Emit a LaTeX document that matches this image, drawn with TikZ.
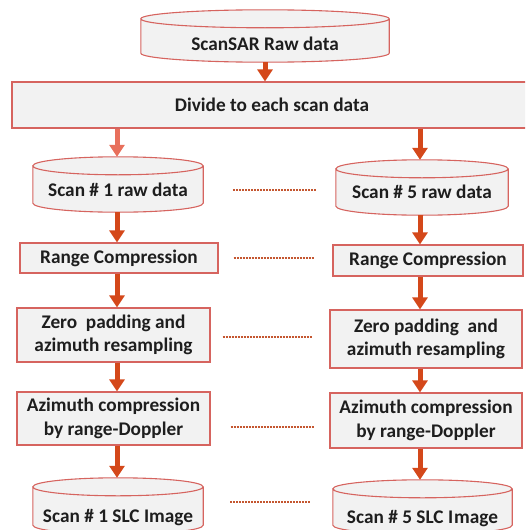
\documentclass[tikz,border=0pt]{standalone}
\usepackage{fontspec}
\setmainfont{Carlito}
\usetikzlibrary{arrows.meta,calc}

\definecolor{flowc}{RGB}{212,72,26}
\definecolor{flowpale}{RGB}{232,112,92}
\definecolor{edgec}{RGB}{214,100,95}
\definecolor{fillc}{RGB}{242,242,242}
\definecolor{linkc}{RGB}{196,86,48}
\definecolor{txtc}{RGB}{30,30,30}

% Drum (database) outline drawn around an empty named node
\newcommand\drumshape[1]{%
  \path[draw=edgec,line width=1.1pt,fill=fillc]
    let \p1=(#1.north west), \p2=(#1.south east), \n1={(\x2-\x1)/2} in
    (\x1,\y1-9pt) -- (\x1,\y2+9pt)
    arc[start angle=180,end angle=360,x radius=\n1,y radius=9pt]
    -- (\x2,\y1-9pt)
    arc[start angle=0,end angle=360,x radius=\n1,y radius=9pt];
}

\begin{document}
\begin{tikzpicture}[x=1pt,y=-1pt,
  font=\fontsize{19.3}{23.5}\selectfont\bfseries,
  drumbase/.style={rectangle,inner sep=0pt,draw=none},
  lbl/.style={inner sep=0pt,text=txtc},
  procbox/.style={rectangle,draw=edgec,line width=1.1pt,fill=fillc,
    inner sep=2pt,align=center,text=txtc},
  flow/.style={draw=flowc,line width=5pt,-{Triangle[width=15pt,length=12pt]}},
  flowlight/.style={draw=flowpale,line width=5pt,-{Triangle[width=15pt,length=12pt]}},
  dotlink/.style={draw=linkc,line width=1.3pt,dash pattern=on 2pt off 1pt}]

\clip (0,0) rectangle (525,530);

% column axes for the vertical flow
\coordinate (colL) at (117,0);
\coordinate (colR) at (420,0);

% top source
\node[drumbase,minimum width=248pt,minimum height=52pt] (top) at (265,36) {};
\drumshape{top}
\node[lbl] (topt) at (265,44) {ScanSAR Raw data};

% split step
\node[procbox,minimum width=520pt,minimum height=46pt] (divide) at (272,105)
  {Divide to each scan data};

% scan 1 column
\node[drumbase,minimum width=170pt,minimum height=55pt] (s1) at (118,184.5) {};
\drumshape{s1}
\node[lbl] (s1t) at (118,190) {Scan \# 1 raw data};

\node[procbox,minimum width=198pt,minimum height=30pt] (rc1) at (119,258)
  {Range Compression};
\node[procbox,minimum width=193pt,minimum height=54pt] (zp1) at (113.5,335)
  {Zero\ \ padding and\\azimuth resampling};
\node[procbox,minimum width=193pt,minimum height=53pt] (az1) at (113.5,418.5)
  {Azimuth compression\\by range-Doppler};

\node[drumbase,minimum width=170pt,minimum height=56pt] (slc1) at (118,506) {};
\drumshape{slc1}
\node[lbl] (slc1t) at (118,518) {Scan \# 1 SLC Image};

% scan 5 column
\node[drumbase,minimum width=172pt,minimum height=55pt] (s5) at (422,187.5) {};
\drumshape{s5}
\node[lbl] (s5t) at (422,192) {Scan \# 5 raw data};

\node[procbox,minimum width=190pt,minimum height=31pt] (rc5) at (428,260.5)
  {Range Compression};
\node[procbox,minimum width=192pt,minimum height=58pt] (zp5) at (426,339)
  {Zero padding\ \ and\\azimuth resampling};
\node[procbox,minimum width=192pt,minimum height=55pt] (az5) at (426,420.5)
  {Azimuth compression\\by range-Doppler};

\node[drumbase,minimum width=179pt,minimum height=54pt] (slc5) at (422.5,507) {};
\drumshape{slc5}
\node[lbl] (slc5t) at (422.5,519) {Scan \# 5 SLC I\kern1pt mage};

% flow arrows
\draw[flow] (top.south) -- (top.south |- divide.north);
\draw[flowlight] (divide.south -| colL) -- (s1.north -| colL);
\draw[flow] (divide.south -| colR) -- (s5.north -| colR);

\draw[flow] (s1.south -| colL) -- (rc1.north -| colL);
\draw[flow] (rc1.south -| colL) -- (zp1.north -| colL);
\draw[flow] (zp1.south -| colL) -- (az1.north -| colL);
\draw[flow] (az1.south -| colL) -- (slc1.north -| colL);

\draw[flow] (s5.south -| colR) -- (rc5.north -| colR);
\draw[flow] (rc5.south -| colR) -- (zp5.north -| colR);
\draw[flow] (zp5.south -| colR) -- (az5.north -| colR);
\draw[flow] (az5.south -| colR) -- (slc5.north -| colR);

% dotted links between the two scan columns
\draw[dotlink,shorten <=30pt,shorten >=19pt]
  (s1.east |- s1t) -- (s5.west |- s1t);
\draw[dotlink,shorten <=15pt,shorten >=18pt]
  (rc1.east) -- (rc1.east -| rc5.west);
\draw[dotlink,shorten <=12pt,shorten >=17pt]
  ([yshift=-2pt]zp1.east) -- ([yshift=-2pt]zp1.east -| zp5.west);
\draw[dotlink,shorten <=20pt,shorten >=15pt]
  ([yshift=-8.5pt]az1.east) -- ([yshift=-8.5pt]az1.east -| az5.west);
\draw[dotlink,shorten <=27pt,shorten >=23pt]
  ([yshift=4pt]slc1.east) -- ([yshift=4pt]slc1.east -| slc5.west);

\end{tikzpicture}
\end{document}
